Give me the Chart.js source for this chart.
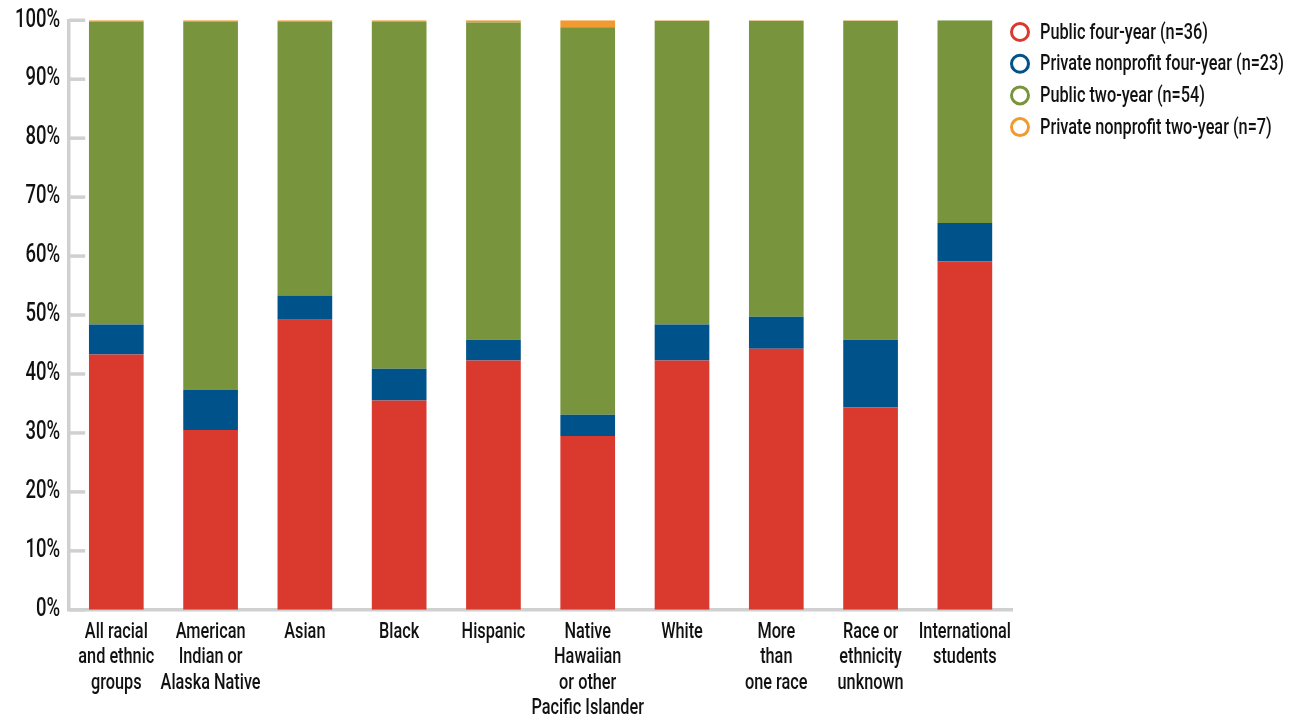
<!DOCTYPE html>
<html>
<head>
<meta charset="utf-8">
<script src="https://cdn.jsdelivr.net/npm/chart.js@4.4.1/dist/chart.umd.min.js"></script>
<style>
  body { margin: 0; background: #fff; }
  #wrap { width: 1292px; height: 717px; position: relative; }
</style>
</head>
<body>
<div id="wrap"><canvas id="canvas"></canvas></div>
<script>
var categories = [
  ['All racial', 'and ethnic', 'groups'],
  ['American', 'Indian or', 'Alaska Native'],
  'Asian',
  'Black',
  'Hispanic',
  ['Native', 'Hawaiian', 'or other', 'Pacific Islander'],
  'White',
  ['More', 'than', 'one race'],
  ['Race or', 'ethnicity', 'unknown'],
  ['International', 'students']
]
var publicFour = [43.3, 30.5, 49.2, 35.5, 42.3, 29.5, 42.3, 44.3, 34.3, 59.1]
var privateFour = [5.1, 6.8, 4.1, 5.4, 3.5, 3.6, 6.1, 5.4, 11.5, 6.5]
var publicTwo = [51.4, 62.4, 46.4, 58.8, 53.8, 65.7, 51.5, 50.2, 54.1, 34.4]
var privateTwo = [0.2, 0.3, 0.3, 0.3, 0.4, 1.2, 0.1, 0.1, 0.1, 0]
var seriesNames = [
  'Public four-year (n=36)',
  'Private nonprofit four-year (n=23)',
  'Public two-year (n=54)',
  'Private nonprofit two-year (n=7)'
]
var colors = ['#DA392E', '#00528A', '#78953D', '#F09A30']

var fontFam = 'Roboto, "Liberation Sans", sans-serif'
var squeeze = 0.74

var ctx = document.getElementById('canvas').getContext('2d')

// no condensed font installed, so squeeze text horizontally
var rawFill = ctx.fillText.bind(ctx)
var rawMeasure = ctx.measureText.bind(ctx)
ctx.fillText = function(t, x, y) {
  ctx.save()
  ctx.translate(x, y)
  ctx.scale(squeeze, 1)
  rawFill(t, 0, 0)
  ctx.restore()
}
ctx.measureText = function(t) {
  var m = rawMeasure(t)
  return {
    width: m.width * squeeze,
    actualBoundingBoxAscent: m.actualBoundingBoxAscent,
    actualBoundingBoxDescent: m.actualBoundingBoxDescent,
    actualBoundingBoxLeft: m.actualBoundingBoxLeft * squeeze,
    actualBoundingBoxRight: m.actualBoundingBoxRight * squeeze
  }
}

// axis tick stubs drawn inside the plot, plus the circle legend
var extras = {
  id: 'extras',
  afterDraw: function(chart) {
    var c = chart.ctx
    var y = chart.scales.y
    var left = chart.chartArea.left
    c.save()
    c.strokeStyle = '#d0d0d0'
    c.lineWidth = 3.5
    y.ticks.forEach(function(t) {
      var py = y.getPixelForValue(t.value)
      c.beginPath()
      c.moveTo(left, py)
      c.lineTo(left + 16, py)
      c.stroke()
    })
    c.font = '500 22px ' + fontFam
    c.textBaseline = 'middle'
    c.textAlign = 'left'
    c.fillStyle = '#111'
    chart.data.datasets.forEach(function(ds, i) {
      var cy = 32 + i * 31.7
      c.beginPath()
      c.arc(1020, cy, 8.5, 0, Math.PI * 2)
      c.strokeStyle = ds.backgroundColor
      c.lineWidth = 3
      c.stroke()
      c.fillText(ds.label, 1040, cy + 1)
    })
    c.restore()
  }
}

var chart = new Chart(ctx, {
  type: 'bar',
  data: {
    labels: categories,
    datasets: [publicFour, privateFour, publicTwo, privateTwo].map(function(d, i) {
      return {
        label: seriesNames[i],
        data: d,
        backgroundColor: colors[i],
        barPercentage: 0.58,
        categoryPercentage: 1
      }
    })
  },
  options: {
    responsive: true,
    maintainAspectRatio: false,
    animation: false,
    layout: { padding: { left: 6, right: 280, top: 0, bottom: -14 } },
    plugins: {
      legend: { display: false },
      tooltip: { enabled: false }
    },
    scales: {
      x: {
        stacked: true,
        grid: { display: false, drawTicks: false },
        border: { display: true, color: '#d0d0d0', width: 3.5 },
        ticks: {
          color: '#111',
          font: { family: fontFam, size: 22, weight: '500', lineHeight: 1.15 },
          padding: 10,
          maxRotation: 0,
          autoSkip: false
        }
      },
      y: {
        stacked: true,
        min: 0,
        max: 100,
        grid: { display: false, drawTicks: false },
        border: { display: true, color: '#d0d0d0', width: 3.5 },
        ticks: {
          stepSize: 10,
          color: '#111',
          padding: 9,
          font: { family: fontFam, size: 25, weight: '500', lineHeight: 0.9 },
          callback: function(v) { return v + '%' }
        }
      }
    }
  },
  plugins: [extras]
})
</script>
</body>
</html>
